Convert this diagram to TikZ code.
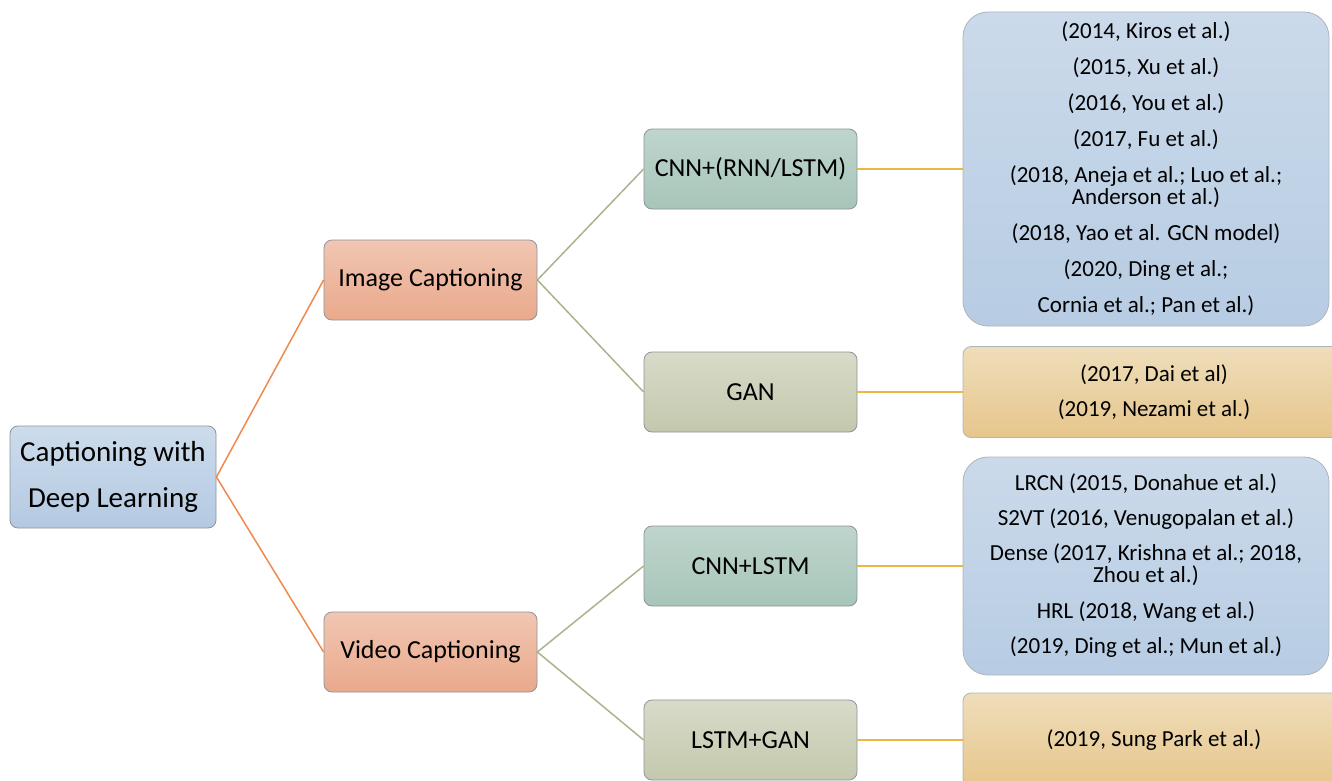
\documentclass[tikz,border=0pt]{standalone}
\usepackage{fontspec}
\setmainfont{Carlito}
\definecolor{rootT}{HTML}{CCDCEC}
\definecolor{rootB}{HTML}{B4C9E1}
\definecolor{salT}{HTML}{F1C6B2}
\definecolor{salB}{HTML}{E9A98C}
\definecolor{tealT}{HTML}{BFD5CD}
\definecolor{tealB}{HTML}{A7C5B9}
\definecolor{oliT}{HTML}{D8DBC8}
\definecolor{oliB}{HTML}{C3C8AD}
\definecolor{bluT}{HTML}{CBDAEA}
\definecolor{bluB}{HTML}{B7CCE3}
\definecolor{golT}{HTML}{EFDDBA}
\definecolor{golB}{HTML}{E6C68C}
\definecolor{bordr}{HTML}{8C949C}
\definecolor{lineO}{HTML}{EE8A4E}
\definecolor{lineG}{HTML}{A9B48C}
\definecolor{lineY}{HTML}{EFB347}
\begin{document}
\begin{tikzpicture}[x=1pt,y=-1pt,
  basebox/.style={draw=bordr, line width=0.8pt, inner sep=0pt, align=center, text=black},
  rootbox/.style={basebox, rounded corners=8pt, minimum width=206pt, minimum height=102pt,
     top color=rootT, bottom color=rootB, font=\fontsize{29}{46}\selectfont},
  midbox/.style={basebox, rounded corners=8pt, minimum width=213pt, minimum height=80pt,
     font=\fontsize{26}{30}\selectfont},
  salfill/.style={top color=salT, bottom color=salB},
  tealfill/.style={top color=tealT, bottom color=tealB},
  olifill/.style={top color=oliT, bottom color=oliB},
  leafbox/.style={basebox, draw=bordr!70, font=\fontsize{23}{22}\selectfont},
  bluleaf/.style={leafbox, rounded corners=25pt, top color=bluT, bottom color=bluB},
  golleaf/.style={leafbox, rounded corners=8pt, top color=golT, bottom color=golB},
  lnO/.style={draw=lineO, line width=1.5pt},
  lnG/.style={draw=lineG, line width=1.5pt},
  lnY/.style={draw=lineY, line width=1.5pt}
]
\useasboundingbox (0,0) rectangle (1332,781);
\clip (0,0) rectangle (1332,781);

\node[rootbox] (root) at (113,477) {Captioning with\\Deep Learning};

\node[midbox, salfill] (img) at (430.5,280) {Image Captioning};
\node[midbox, salfill] (vid) at (430.5,652) {Video Captioning};

\node[midbox, tealfill] (cnn1) at (750.5,169) {CNN+(RNN/LSTM)};
\node[midbox, olifill] (gan1) at (750.5,392) {GAN};
\node[midbox, tealfill] (cnn2) at (750.5,566) {CNN+LSTM};
\node[midbox, olifill] (gan2) at (750.5,740) {LSTM+GAN};

\node[bluleaf, minimum width=366pt, minimum height=314pt] (leaf1) at (1146,169)
 {(2014, Kiros et al.)\\[14pt](2015, Xu et al.)\\[14pt](2016, You et al.)\\[14pt](2017, Fu et al.)\\[14pt](2018, Aneja et al.; Luo et al.;\\Anderson et al.)\\[14pt](2018, Yao et al. GCN model)\\[14pt](2020, Ding et al.;\\[14pt]Cornia et al.; Pan et al.)};
\node[golleaf, minimum width=382pt, minimum height=91pt] (leaf2) at (1154,392)
 {(2017, Dai et al)\\[13pt](2019, Nezami et al.)};
\node[bluleaf, minimum width=366pt, minimum height=218pt] (leaf3) at (1146,566)
 {LRCN (2015, Donahue et al.)\\[13pt]S2VT (2016, Venugopalan et al.)\\[13pt]Dense (2017, Krishna et al.; 2018,\\Zhou et al.)\\[14pt]HRL (2018, Wang et al.)\\[13pt](2019, Ding et al.; Mun et al.)};
\node[golleaf, minimum width=382pt, minimum height=94pt] (leaf4) at (1154,740)
 {(2019, Sung Park et al.)};

\draw[lnO] (root.east) -- (img.west);
\draw[lnO] (root.east) -- (vid.west);
\draw[lnG] (img.east) -- (cnn1.west);
\draw[lnG] (img.east) -- (gan1.west);
\draw[lnG] (vid.east) -- (cnn2.west);
\draw[lnG] (vid.east) -- (gan2.west);
\draw[lnY] (cnn1.east) -- (leaf1.west);
\draw[lnY] (gan1.east) -- (leaf2.west);
\draw[lnY] (cnn2.east) -- (leaf3.west);
\draw[lnY] (gan2.east) -- (leaf4.west);
\end{tikzpicture}
\end{document}
